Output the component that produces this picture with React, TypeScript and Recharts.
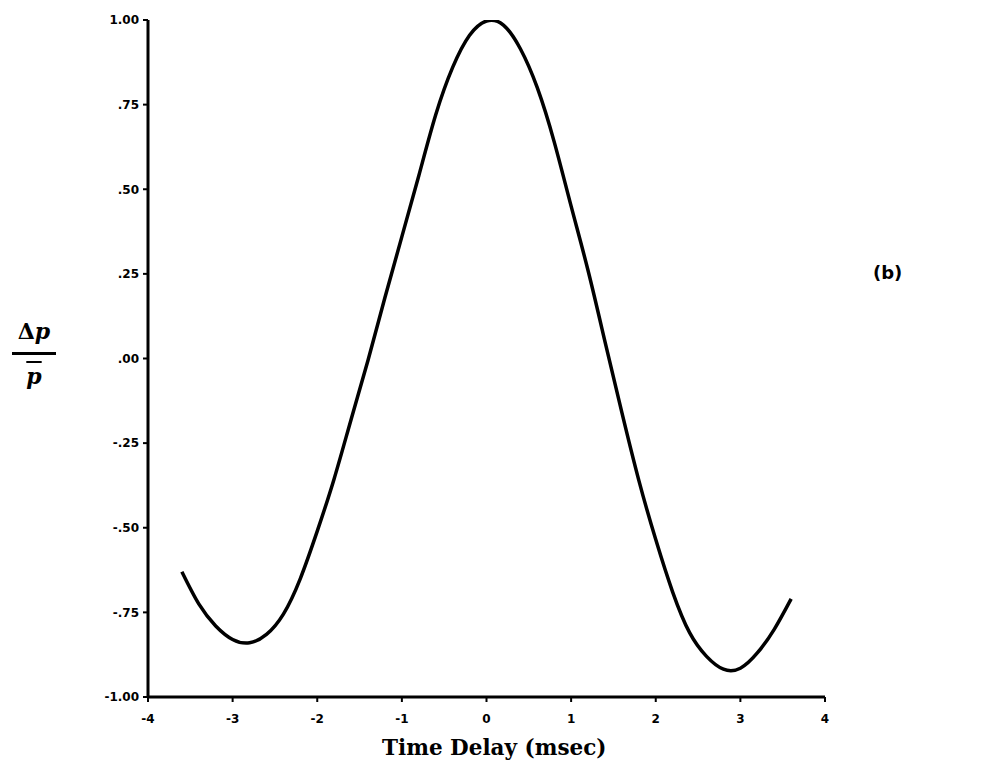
import { LineChart, Line, XAxis, YAxis } from 'recharts';

// Normalized pressure difference vs. time delay
const delays = [
  -3.6, -3.4, -3.2, -3.0, -2.8, -2.6, -2.4, -2.2, -2.0, -1.8, -1.6, -1.4, -1.2, -1.0, -0.8,
  -0.6, -0.4, -0.2, 0.0, 0.2, 0.4, 0.6, 0.8, 1.0, 1.2, 1.4, 1.6, 1.8, 2.0, 2.2, 2.4, 2.6,
  2.8, 3.0, 3.2, 3.4, 3.6,
];
const ratio = [
  -0.63, -0.725, -0.79, -0.83, -0.84, -0.815, -0.755, -0.65, -0.51, -0.355, -0.18, -0.005,
  0.18, 0.36, 0.54, 0.72, 0.86, 0.955, 0.997, 0.985, 0.915, 0.8, 0.64, 0.45, 0.26, 0.05,
  -0.16, -0.36, -0.535, -0.69, -0.81, -0.88, -0.918, -0.915, -0.87, -0.8, -0.71,
];

const xTicks = [-4, -3, -2, -1, 0, 1, 2, 3, 4];
const yTicks = [-1, -0.75, -0.5, -0.25, 0, 0.25, 0.5, 0.75, 1];
const yTickLabels = ['-1.00', '-.75', '-.50', '-.25', '.00', '.25', '.50', '.75', '1.00'];

const data = delays.map((x, i) => ({ x, y: ratio[i] }));

const tickStyle = { fontFamily: 'DejaVu Sans', fontWeight: 'bold', fontSize: 12, fill: '#000' };
const serif = 'DejaVu Serif';

export default function App() {
  return (
    <div style={{ position: 'absolute', left: 0, top: 0, width: 983, height: 782, background: '#fff' }}>
      <LineChart
        width={983}
        height={782}
        data={data}
        margin={{ top: 20, right: 158, bottom: 0, left: 0 }}
      >
        <XAxis
          dataKey="x"
          type="number"
          domain={[-4, 4]}
          ticks={xTicks}
          allowDataOverflow
          stroke="#000"
          strokeWidth={3}
          tickSize={5}
          tick={tickStyle}
          tickLine={{ stroke: '#000', strokeWidth: 2 }}
          height={85}
          tickMargin={12}
        />
        <XAxis
          xAxisId="top"
          dataKey="x"
          type="number"
          domain={[-4, 4]}
          orientation="top"
          stroke="#000"
          strokeWidth={3}
          tick={false}
          tickLine={false}
          height={0}
        />
        <YAxis
          type="number"
          domain={[-1, 1]}
          ticks={yTicks}
          allowDataOverflow
          tickFormatter={(v: number) => yTickLabels[yTicks.indexOf(v)] ?? ''}
          stroke="#000"
          strokeWidth={3}
          tickSize={5}
          tick={tickStyle}
          tickLine={{ stroke: '#000', strokeWidth: 2 }}
          width={148}
          tickMargin={4}
        />
        <YAxis
          yAxisId="right"
          type="number"
          domain={[-1, 1]}
          orientation="right"
          stroke="#000"
          strokeWidth={3}
          tick={false}
          tickLine={false}
          width={0}
        />
        <Line
          type="natural"
          dataKey="y"
          stroke="#000"
          strokeWidth={3.5}
          dot={false}
          isAnimationActive={false}
        />
      </LineChart>

      {/* y-axis label as a fraction: Δp over p-bar */}
      <div
        style={{
          position: 'absolute',
          left: 12,
          top: 318,
          width: 44,
          textAlign: 'center',
          fontFamily: serif,
          fontWeight: 'bold',
          fontSize: 22,
          lineHeight: '26px',
          color: '#000',
        }}
      >
        <div>
          Δ<i>p</i>
        </div>
        <div style={{ borderTop: '3px solid #000', marginTop: 8 }} />
        <div style={{ marginTop: 8 }}>
          <i style={{ textDecoration: 'overline', textDecorationThickness: 2 }}>p</i>
        </div>
      </div>

      <div
        style={{
          position: 'absolute',
          left: 873,
          top: 262,
          fontFamily: 'DejaVu Sans',
          fontWeight: 'bold',
          fontSize: 18,
          color: '#000',
        }}
      >
        (b)
      </div>

      <div
        style={{
          position: 'absolute',
          left: 382,
          top: 735,
          fontFamily: serif,
          fontWeight: 'bold',
          fontSize: 21.5,
          color: '#000',
          whiteSpace: 'nowrap',
        }}
      >
        Time Delay (msec)
      </div>
    </div>
  );
}
